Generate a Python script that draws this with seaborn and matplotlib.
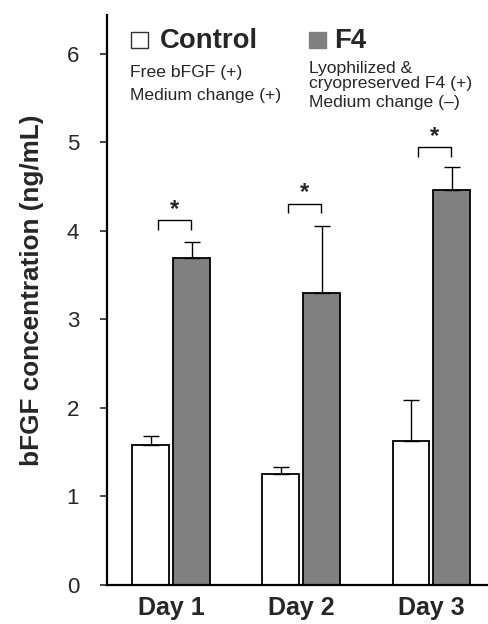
import matplotlib
matplotlib.use("Agg")
import matplotlib.pyplot as plt
import seaborn as sns
import pandas as pd
from matplotlib.patches import Rectangle

days = ["Day 1", "Day 2", "Day 3"]
groups = ["Control", "F4"]
control_mean = [1.58, 1.25, 1.63]
control_err = [0.10, 0.08, 0.46]
f4_mean = [3.69, 3.30, 4.46]
f4_err = [0.19, 0.76, 0.26]
bracket_top = [4.12, 4.31, 4.95]
yticks = [0, 1, 2, 3, 4, 5, 6]

df = pd.DataFrame({
    "day": days * 2,
    "group": ["Control"] * 3 + ["F4"] * 3,
    "value": control_mean + f4_mean,
})

sns.set_theme(style="ticks")
plt.rcParams["font.family"] = ["Liberation Sans", "DejaVu Sans"]

W, H = 488, 624
fig = plt.figure(figsize=(W / 100, H / 100), dpi=100)
ax = fig.add_axes([107 / W, 1 - 585 / H, (W - 107) / W, (585 - 15) / H])

sns.barplot(data=df, x="day", y="value", hue="group", order=days,
            hue_order=groups, palette={"Control": "white", "F4": "#808080"},
            width=0.63, gap=0.1, errorbar=None, edgecolor="black",
            linewidth=1.3, legend=False, ax=ax)

for cont, means, errs in zip(ax.containers, [control_mean, f4_mean], [control_err, f4_err]):
    xs = [p.get_x() + p.get_width() / 2 for p in cont.patches]
    ax.errorbar(xs, means, yerr=[[0] * len(errs), errs], fmt="none",
                ecolor="black", elinewidth=1.0, capsize=5.5, capthick=1.0, zorder=3)

# significance brackets
for i, top in enumerate(bracket_top):
    x0, x1 = i - 0.10, i + 0.15
    ax.plot([x0, x0, x1, x1], [top - 0.11, top, top, top - 0.11],
            color="black", lw=1.0, solid_capstyle="butt")
    ax.text((x0 + x1) / 2, top + 0.12, "*", ha="center", va="center",
            fontsize=17, fontweight="bold")

ax.set_xlim(-0.495, 2.435)
ax.set_ylim(0, 6.44)
ax.set_yticks(yticks)
ax.set_yticklabels([str(t) for t in yticks], fontsize=16)
ax.tick_params(axis="y", length=5, width=1.2, direction="out", pad=15)
ax.tick_params(axis="x", length=0, pad=8)
for lab in ax.get_xticklabels():
    lab.set_fontsize(18)
    lab.set_fontweight("bold")
ax.set_xlabel("")
ax.set_ylabel("")
sns.despine(ax=ax, top=True, right=True)
for s in ["left", "bottom"]:
    ax.spines[s].set_linewidth(1.6)
    ax.spines[s].set_color("black")

fig.text(32 / W, 1 - 290 / H, "bFGF concentration (ng/mL)", rotation=90,
         ha="center", va="center", fontsize=18.8, fontweight="bold")

# legend (manual)
def px(x, y):
    return x / W, 1 - y / H

fig.patches.append(Rectangle(px(131, 48), 17 / W, 16 / H, transform=fig.transFigure,
                             facecolor="white", edgecolor="#333333", lw=1.0))
fig.patches.append(Rectangle(px(309, 48), 17 / W, 16 / H, transform=fig.transFigure,
                             facecolor="#808080", edgecolor="#808080", lw=1.0))
fig.text(*px(160, 48), "Control", fontsize=19.8, fontweight="bold", va="baseline")
fig.text(*px(334, 48), "F4", fontsize=19.8, fontweight="bold", va="baseline")
fig.text(*px(130, 77), "Free bFGF (+)", fontsize=12.6, va="baseline")
fig.text(*px(130, 100), "Medium change (+)", fontsize=12.6, va="baseline")
fig.text(*px(309, 73), "Lyophilized &", fontsize=12.6, va="baseline")
fig.text(*px(309, 88), "cryopreserved F4 (+)", fontsize=12.6, va="baseline")
fig.text(*px(309, 107), "Medium change (\u2013)", fontsize=12.6, va="baseline")

fig.savefig("out.png", dpi=100)
